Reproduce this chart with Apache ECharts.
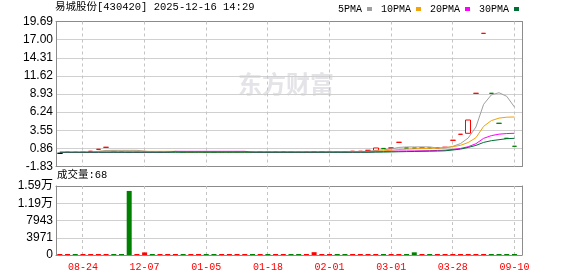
<!DOCTYPE html>
<html><head><meta charset="utf-8">
<script src="https://cdn.jsdelivr.net/npm/echarts@6/dist/echarts.min.js"></script>
<style>html,body{margin:0;padding:0;background:#fff}#c{width:578px;height:276px}</style>
</head><body><div id="c"></div>
<script>
const categories = [
 '08-14','08-19','08-21','08-24','09-02','09-15','10-09','10-22','11-05','11-18',
 '11-28','12-07','12-10','12-13','12-17','12-20','12-24','12-27','12-31','01-05',
 '01-06','01-08','01-09','01-10','01-13','01-15','01-16','01-18','01-20','01-22',
 '01-23','01-24','01-27','01-29','01-30','02-01','02-05','02-08','02-12','02-15',
 '02-19','02-22','02-26','03-01','03-05','03-08','03-12','03-15','03-19','03-22',
 '03-26','03-28','04-10','05-06','05-28','06-18','07-09','07-30','08-20','09-10'];
const closes = [
 0.13,0.28,0.27,0.28,0.42,0.72,1.02,0.42,0.35,0.28,
 0.30,0.35,0.30,0.32,0.35,0.38,0.30,0.32,0.35,0.30,
 0.28,0.30,0.32,0.35,0.38,0.30,0.32,0.30,0.32,0.35,
 0.30,0.28,0.30,0.35,0.38,0.40,0.37,0.35,0.42,0.42,
 0.57,0.92,0.85,0.92,1.76,0.92,0.90,0.92,0.90,0.92,
 1.02,2.06,2.95,5.07,9.03,17.93,9.03,4.58,2.35,1.17];
const opens = [
 0.13,0.28,0.27,0.28,0.42,0.72,1.02,0.42,0.35,0.28,
 0.30,0.35,0.30,0.32,0.35,0.38,0.30,0.32,0.35,0.30,
 0.28,0.30,0.32,0.35,0.38,0.30,0.32,0.30,0.32,0.35,
 0.30,0.28,0.30,0.35,0.38,0.40,0.37,0.35,0.42,0.42,
 0.57,0.52,0.85,0.92,1.76,0.92,0.90,0.92,0.90,0.92,
 1.02,2.06,2.95,3.10,9.03,17.93,9.03,4.58,2.35,1.17];
const lows = opens.map((o, i) => Math.min(o, closes[i]));
const highs = opens.map((o, i) => Math.max(o, closes[i]));
const volumes = [
 120,150,100,130,200,180,160,140,110,14750,
 150,600,120,100,130,160,110,140,120,100,
 130,150,120,100,140,110,160,120,100,130,
 140,110,120,650,150,130,120,100,140,160,
 150,130,120,140,110,120,620,130,110,140,
 150,180,200,160,140,170,150,130,110,68];
const ma5 = [
 0.28,0.28,0.28,0.28,0.30,0.40,0.55,0.57,0.57,0.57,
 0.57,0.45,0.32,0.33,0.33,0.33,0.33,0.33,0.33,0.33,
 0.33,0.33,0.33,0.33,0.33,0.33,0.33,0.33,0.33,0.33,
 0.33,0.33,0.33,0.33,0.33,0.35,0.36,0.36,0.38,0.40,
 0.43,0.55,0.66,0.77,1.00,1.07,1.07,1.08,1.08,0.91,
 0.93,1.16,1.57,2.40,4.03,7.40,8.80,9.12,8.58,7.00];
const ma10 = [
 0.28,0.28,0.28,0.28,0.28,0.42,0.42,0.42,0.42,0.42,
 0.42,0.42,0.42,0.42,0.42,0.42,0.32,0.32,0.32,0.32,
 0.32,0.32,0.32,0.32,0.32,0.32,0.32,0.32,0.32,0.32,
 0.32,0.32,0.32,0.32,0.32,0.34,0.34,0.34,0.35,0.36,
 0.38,0.44,0.50,0.58,0.69,0.74,0.79,0.84,0.86,0.89,
 0.97,1.11,1.31,1.73,2.44,4.13,4.98,5.35,5.49,5.52];
const ma20 = [
 0.28,0.28,0.28,0.28,0.28,0.28,0.28,0.28,0.28,0.28,
 0.28,0.28,0.28,0.28,0.28,0.42,0.42,0.42,0.42,0.42,
 0.42,0.42,0.42,0.42,0.42,0.30,0.30,0.30,0.30,0.30,
 0.30,0.30,0.30,0.30,0.30,0.30,0.30,0.30,0.30,0.30,
 0.32,0.36,0.39,0.42,0.46,0.47,0.48,0.50,0.52,0.55,
 0.60,0.70,0.85,1.11,1.55,2.35,2.75,2.97,3.06,3.10];
const ma30 = [
 0.28,0.28,0.28,0.28,0.28,0.28,0.28,0.28,0.28,0.28,
 0.28,0.28,0.28,0.28,0.28,0.28,0.28,0.28,0.28,0.28,
 0.28,0.28,0.28,0.28,0.28,0.28,0.28,0.28,0.28,0.28,
 0.28,0.28,0.28,0.28,0.28,0.28,0.28,0.28,0.28,0.28,
 0.28,0.30,0.31,0.33,0.36,0.38,0.40,0.42,0.44,0.46,
 0.50,0.62,0.75,1.00,1.30,1.75,2.00,2.15,2.30,2.35];
const priceTicks = ['-1.83','0.86','3.55','6.24','8.93','11.62','14.31','17.00','19.69'];
const volTicks = ['0','3971','7943','1.19万','1.59万'];
const priceMin = -1.83, priceMax = 19.69, volMax = 15885;
const maNames = ['5PMA','10PMA','20PMA','30PMA'];
const maColors = ['#a0a0a0','#f0a30a','#ff00ff','#006f35'];
const title = '易城股份[430420] 2025-12-16 14:29';
const labelEvery = 8, labelFirst = 3;

const UP = '#ff0000', DOWN = '#008000', FRAME = '#8c8c8c';
const MONO = "'Liberation Mono','Noto Sans CJK SC',monospace";
const dir = closes.map((c, i) => {
  const o = opens[i];
  if (c > o) return 1;
  if (c < o) return -1;
  if (i === 0) return 0;
  return c >= closes[i - 1] ? 1 : -1;
});
function candleStyle(d) {
  if (d > 0) return {color:'#fff', color0:'#fff', borderColor:UP, borderColor0:UP, borderColorDoji:UP};
  if (d < 0) return {color:DOWN, color0:DOWN, borderColor:DOWN, borderColor0:DOWN, borderColorDoji:DOWN};
  return {color:'#000', color0:'#000', borderColor:'#000', borderColor0:'#000', borderColorDoji:'#000'};
}
const candleData = categories.map((_, i) => ({value:[opens[i], closes[i], lows[i], highs[i]], itemStyle:candleStyle(dir[i])}));
const volData = volumes.map((v, i) => ({value:v, itemStyle:{color: dir[i] >= 0 ? UP : DOWN}}));
const showIdx = (i) => i % labelEvery === labelFirst;
const markedIdx = categories.map((_, i) => i).filter(showIdx);

// vertical dashed gridlines at the labelled categories, placed through the category axis
const gridLineSeries = (xi, yi) => ({
  type:'custom', xAxisIndex:xi, yAxisIndex:yi, z:1, silent:true, clip:false,
  data: markedIdx.map(i => [i, 0]),
  encode:{x:0, y:1},
  renderItem: (params, api) => {
    const x = api.coord([api.value(0), api.value(1)])[0];
    const cs = params.coordSys;
    const px = Math.round(x - 0.5) + 0.5;
    return {type:'line', silent:true,
      shape:{x1:px, y1:cs.y, x2:px, y2:cs.y + cs.height},
      style:{stroke:'#c4c4c4', lineWidth:1, lineDash:[3,3]}};
  }
});
const maSeries = [ma5, ma10, ma20, ma30].map((arr, k) => ({
  name: maNames[k], type:'line', xAxisIndex:1, yAxisIndex:1, data:arr,
  symbol:'none', showSymbol:false, color:maColors[k], lineStyle:{width:1, color:maColors[k]}, z:3
}));
const frameX = (g, pos) => ({gridIndex:g, type:'value', position:pos, min:0, max:1,
  axisLine:{show:true, onZero:false, lineStyle:{color:FRAME}}, axisTick:{show:false}, axisLabel:{show:false}, splitLine:{show:false}});
const frameY = (g, pos) => ({gridIndex:g, type:'value', position:pos, min:0, max:1,
  axisLine:{show:true, onZero:false, lineStyle:{color:FRAME}}, axisTick:{show:false}, axisLabel:{show:false}, splitLine:{show:false}});

const GX = 56, GW = 466, DW = 462.3;
const chart = echarts.init(document.getElementById('c'), null, {renderer:'canvas'});
chart.setOption({
  animation:false,
  backgroundColor:'#fff',
  title:{text:title, left:55, top:2, padding:0, textStyle:{fontFamily:MONO, fontSize:10.5, fontWeight:'normal', color:'#000'}},
  legend:{data:maNames, left:338, top:4, padding:0, align:'right', icon:'rect', itemWidth:5, itemHeight:4, itemGap:9,
    textStyle:{fontFamily:MONO, fontSize:10, color:'#000'}},
  graphic:[
    {type:'text', left:238, top:72, z:0, silent:true, style:{text:'东方财富', fontSize:24, fontWeight:'bold', fontFamily:'Noto Sans CJK SC', fill:'#e3e3e8'}},
    {type:'text', left:57, top:170, style:{text:'成交量:' + volumes[volumes.length - 1], font:"10.5px 'Liberation Mono','Noto Sans CJK SC',monospace", fill:'#000'}}
  ],
  grid:[
    {left:GX, top:21.5, width:GW, height:145},
    {left:GX, top:21.5, width:DW, height:145},
    {left:GX, top:186, width:GW, height:69},
    {left:GX, top:186, width:DW, height:69}
  ],
  xAxis:[
    frameX(0, 'bottom'),
    {gridIndex:1, type:'category', data:categories, boundaryGap:true, axisLine:{show:false}, axisTick:{show:false}, axisLabel:{show:false}, splitLine:{show:false}},
    frameX(2, 'bottom'),
    {gridIndex:3, type:'category', data:categories, boundaryGap:true, axisLine:{show:false}, axisTick:{show:false},
      axisLabel:{show:true, interval:(i)=>showIdx(i), color:'#ff0000', fontFamily:MONO, fontSize:10, margin:7}, splitLine:{show:false}},
    frameX(0, 'top'),
    frameX(2, 'top')
  ],
  yAxis:[
    {gridIndex:0, type:'value', position:'left', min:0, max:8, interval:1, axisLine:{show:true, onZero:false, lineStyle:{color:FRAME}}, axisTick:{show:false},
      axisLabel:{formatter:(v)=>priceTicks[v], color:'#000', fontSize:12, fontFamily:'Liberation Sans', margin:3},
      splitLine:{show:true, lineStyle:{color:'#d0d0d0'}}},
    {gridIndex:1, type:'value', min:priceMin, max:priceMax, show:false, splitLine:{show:false}},
    {gridIndex:2, type:'value', position:'left', min:0, max:4, interval:1, axisLine:{show:true, onZero:false, lineStyle:{color:FRAME}}, axisTick:{show:false},
      axisLabel:{formatter:(v)=>volTicks[v], color:'#000', fontSize:12, fontFamily:"'Liberation Sans','Noto Sans CJK SC'", margin:3},
      splitLine:{show:true, lineStyle:{color:'#d0d0d0'}}},
    {gridIndex:3, type:'value', min:0, max:volMax, show:false, splitLine:{show:false}},
    frameY(0, 'right'),
    frameY(2, 'right')
  ],
  series:[
    gridLineSeries(1, 1),
    gridLineSeries(3, 3),
    {name:'K', type:'candlestick', xAxisIndex:1, yAxisIndex:1, data:candleData, barWidth:5, z:2},
    ...maSeries,
    {name:'VOL', type:'bar', xAxisIndex:3, yAxisIndex:3, data:volData, barWidth:5, barMinHeight:1, z:2}
  ]
});
</script></body></html>
